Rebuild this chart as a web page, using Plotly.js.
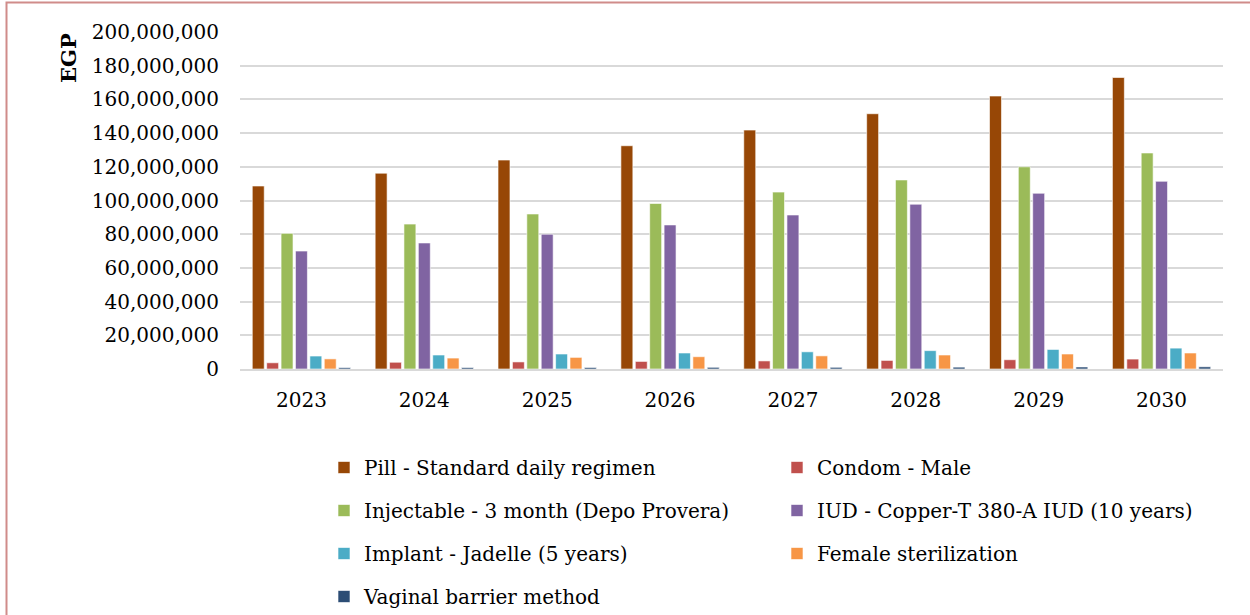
<!DOCTYPE html>
<html>
<head>
<meta charset="utf-8">
<script src="https://cdn.plot.ly/plotly-3.0.1.min.js"></script>
<style>
html,body{margin:0;padding:0;background:#fff;}
#chart{width:1250px;height:615px;}
</style>
</head>
<body>
<div id="chart"></div>
<script>
const years = ['2023','2024','2025','2026','2027','2028','2029','2030'];
const pill        = [108.6e6, 116.2e6, 124.0e6, 132.5e6, 141.8e6, 151.5e6, 162.0e6, 173.0e6];
const condom      = [3.7e6, 4.0e6, 4.2e6, 4.5e6, 4.8e6, 5.1e6, 5.5e6, 5.9e6];
const injectable  = [80.5e6, 86.0e6, 92.0e6, 98.2e6, 105.0e6, 112.2e6, 120.0e6, 128.2e6];
const iud         = [70.0e6, 74.8e6, 80.0e6, 85.5e6, 91.4e6, 97.8e6, 104.3e6, 111.4e6];
const implant     = [7.7e6, 8.3e6, 8.9e6, 9.5e6, 10.2e6, 10.9e6, 11.6e6, 12.4e6];
const female      = [6.0e6, 6.5e6, 6.9e6, 7.3e6, 7.8e6, 8.3e6, 8.9e6, 9.5e6];
const vaginal     = [0.8e6, 0.85e6, 0.9e6, 1.0e6, 1.0e6, 1.1e6, 1.2e6, 1.3e6];
const seriesNames = ['Pill - Standard daily regimen','Condom - Male','Injectable - 3 month (Depo Provera)',
  'IUD - Copper-T 380-A IUD (10 years)','Implant - Jadelle (5 years)','Female sterilization','Vaginal barrier method'];
const yTicks = [0,20e6,40e6,60e6,80e6,100e6,120e6,140e6,160e6,180e6,200e6];

const seriesData = [pill, condom, injectable, iud, implant, female, vaginal];
const colors = ['#974706','#C0504D','#9BBB59','#8064A2','#4BACC6','#F79646','#2C4D75'];
const legendOf = ['legend','legend2','legend','legend2','legend','legend2','legend'];
const FONT = 'DejaVu Serif, Liberation Serif, serif';

const traces = seriesData.map((d,i)=>({
  type:'bar', x:years, y:d, name:seriesNames[i],
  marker:{color:colors[i], line:{color:'rgba(255,255,255,0.6)', width:1}},
  legend:legendOf[i], legendgroup:'g'+i, hoverinfo:'x+y+name'
}));

const legendBase = {
  orientation:'v', xref:'container', yref:'container', yanchor:'top', xanchor:'left',
  font:{family:FONT, size:20, color:'#000'}, tracegroupgap:14, bgcolor:'rgba(0,0,0,0)',
  traceorder:'grouped'
};

const layout = {
  width:1250, height:615,
  margin:{l:240, r:27, t:32, b:246, autoexpand:false},
  paper_bgcolor:'#fff', plot_bgcolor:'#fff',
  barmode:'group', bargap:0.18, bargroupgap:0.17,
  font:{family:FONT, size:19, color:'#000'},
  xaxis:{type:'category', showgrid:false, zeroline:false, showline:true, linecolor:'#D9D9D9', linewidth:2,
    ticks:'', tickangle:0, tickfont:{family:FONT, size:20, color:'#000'}, ticklabelstandoff:12, automargin:false},
  yaxis:{range:[0,200e6], tickvals:yTicks, tickformat:',d', showgrid:true, gridcolor:'#D9D9D9', gridwidth:2,
    zeroline:false, showline:false, ticks:'', tickfont:{family:FONT, size:20, color:'#000'}, ticklabelstandoff:20, automargin:false},
  legend:Object.assign({}, legendBase, {x:324/1250, y:1-448/615}),
  legend2:Object.assign({}, legendBase, {x:777/1250, y:1-448/615}),
  annotations:[{text:'<b>EGP</b>', xref:'paper', yref:'paper', x:(68-240)/983, y:(369-58)/337,
    xanchor:'center', yanchor:'middle', textangle:-90, showarrow:false,
    font:{family:FONT, size:21, color:'#000'}}],
  shapes:[{type:'rect', xref:'paper', yref:'paper',
    x0:(6.5-240)/983, x1:(1262-240)/983, y0:(369-640)/337, y1:(369-2.5)/337,
    line:{color:'#D08C8A', width:2}, fillcolor:'rgba(0,0,0,0)', layer:'below'}],
  showlegend:true
};

Plotly.newPlot('chart', traces, layout, {displayModeBar:false, staticPlot:true});
</script>
</body>
</html>
